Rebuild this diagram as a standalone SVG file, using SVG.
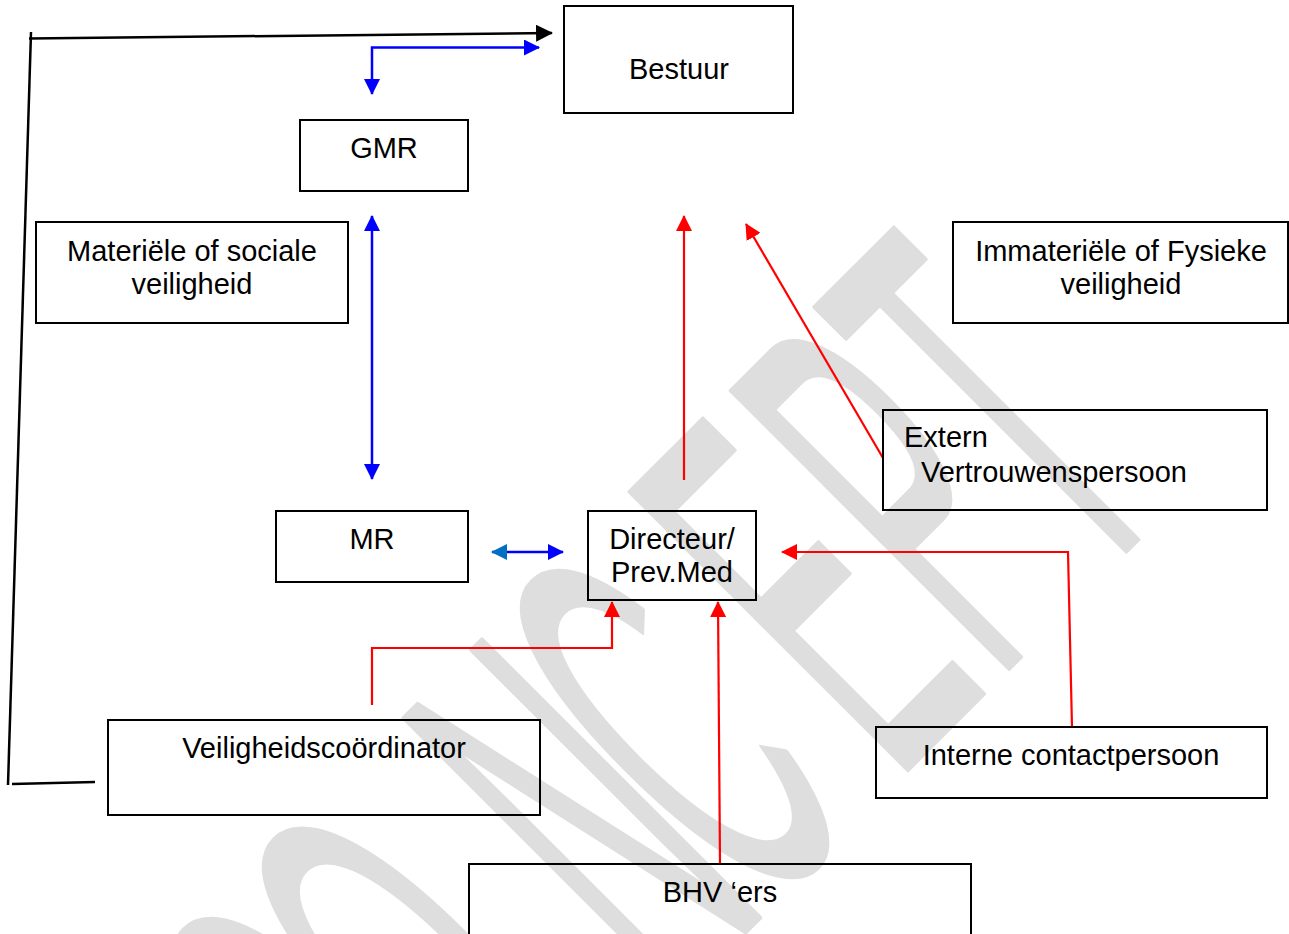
<svg xmlns="http://www.w3.org/2000/svg" width="1289" height="934" viewBox="0 0 1289 934">
<style>
  .box{fill:none;stroke:#000;stroke-width:2}
  .lbl{font-family:"Liberation Sans",Arial,sans-serif;font-size:29px;fill:#000}
  .c{text-anchor:middle}
  .red{fill:none;stroke:#ff0000;stroke-width:2.2}
  .blue{fill:none;stroke:#0000ff;stroke-width:2.5}
  .blk{fill:none;stroke:#000;stroke-width:2.5}
  .wm{font-family:"Liberation Sans",Arial,sans-serif;font-size:570px;fill:#dedede;stroke:#dedede;stroke-width:4;stroke-linejoin:round;vector-effect:non-scaling-stroke}
</style>
<defs>
  <marker id="aR" viewBox="0 0 16 16" refX="15" refY="8" markerWidth="16" markerHeight="16" markerUnits="userSpaceOnUse" orient="auto-start-reverse"><path d="M0,0 L16,8 L0,16 z" fill="#ff0000"/></marker>
  <marker id="aB" viewBox="0 0 16 16" refX="15" refY="8" markerWidth="16" markerHeight="16" markerUnits="userSpaceOnUse" orient="auto-start-reverse"><path d="M0,0 L16,8 L0,16 z" fill="#0000ff"/></marker>
  <marker id="aB2" viewBox="0 0 16 16" refX="15" refY="8" markerWidth="16" markerHeight="16" markerUnits="userSpaceOnUse" orient="auto-start-reverse"><path d="M0,0 L16,8 L0,16 z" fill="#0070c0"/></marker>
  <marker id="aK" viewBox="0 0 16 16" refX="15" refY="8" markerWidth="17" markerHeight="17" markerUnits="userSpaceOnUse" orient="auto"><path d="M0,0 L16,8 L0,16 z" fill="#000"/></marker>
</defs>
<rect width="1289" height="934" fill="#fff"/>
<g id="watermark">
  <text class="wm" transform="translate(838.5,838.5) rotate(-45) scale(0.355,1)" x="-1704 -1346 -676 -318 225 628 995" y="0">CONCEPT</text>
</g>
<g id="connectors">
  <path class="blk" d="M29,38.5 L552,33" marker-end="url(#aK)"/>
  <path class="blk" d="M31,32 L8,785"/>
  <path class="blk" d="M12,784 L95,782"/>
  <path class="blue" d="M372,94 L372,47.5 L539,47.5" marker-start="url(#aB)" marker-end="url(#aB)"/>
  <path class="blue" d="M372,216 L372,479" marker-start="url(#aB)" marker-end="url(#aB)"/>
  <path class="blue" d="M492,552 L563,552" marker-start="url(#aB2)" marker-end="url(#aB)"/>
  <path class="red" d="M684,480 L684,216" marker-end="url(#aR)"/>
  <path class="red" d="M883,458 L746,224" marker-end="url(#aR)"/>
  <path class="red" d="M1072,727 L1068,552 L782,552" marker-end="url(#aR)"/>
  <path class="red" d="M720,863 L718,602" marker-end="url(#aR)"/>
  <path class="red" d="M372,705 L372,648 L612,648 L612,602" marker-end="url(#aR)"/>
</g>
<g id="bestuur">
  <rect class="box" x="564" y="6" width="229" height="107"/>
  <text class="lbl c" x="679" y="79">Bestuur</text>
</g>
<g id="gmr">
  <rect class="box" x="300" y="120" width="168" height="71"/>
  <text class="lbl c" x="384" y="158">GMR</text>
</g>
<g id="materiele">
  <rect class="box" x="36" y="222" width="312" height="101"/>
  <text class="lbl c" x="192" y="261">Materiële of sociale</text>
  <text class="lbl c" x="192" y="294">veiligheid</text>
</g>
<g id="immateriele">
  <rect class="box" x="953" y="222" width="335" height="101"/>
  <text class="lbl c" x="1121" y="261">Immateriële of Fysieke</text>
  <text class="lbl c" x="1121" y="294">veiligheid</text>
</g>
<g id="extern">
  <rect class="box" x="883" y="410" width="384" height="100"/>
  <text class="lbl" x="904" y="447">Extern</text>
  <text class="lbl" x="921" y="482">Vertrouwenspersoon</text>
</g>
<g id="mr">
  <rect class="box" x="276" y="511" width="192" height="71"/>
  <text class="lbl c" x="372" y="549">MR</text>
</g>
<g id="directeur">
  <rect class="box" x="588" y="511" width="168" height="89"/>
  <text class="lbl c" x="672" y="549">Directeur/</text>
  <text class="lbl c" x="672" y="582">Prev.Med</text>
</g>
<g id="veiligheidscoordinator">
  <rect class="box" x="108" y="720" width="432" height="95"/>
  <text class="lbl c" x="324" y="758">Veiligheidscoördinator</text>
</g>
<g id="interne">
  <rect class="box" x="876" y="727" width="391" height="71"/>
  <text class="lbl c" x="1071" y="765">Interne contactpersoon</text>
</g>
<g id="bhv">
  <rect class="box" x="469" y="864" width="502" height="80"/>
  <text class="lbl c" x="720" y="902">BHV ‘ers</text>
</g>
</svg>
